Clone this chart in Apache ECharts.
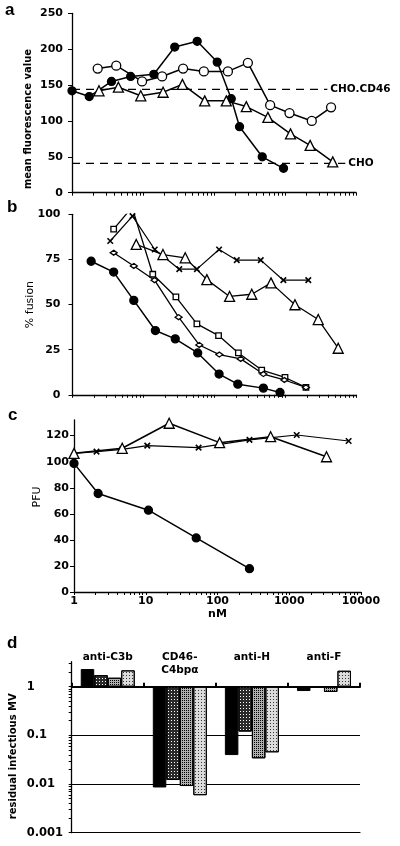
<!DOCTYPE html>
<html><head><meta charset="utf-8">
<script src="https://cdn.jsdelivr.net/npm/echarts@6/dist/echarts.min.js"></script>
<style>html,body{margin:0;padding:0;background:#fff}#c{width:400px;height:846px}</style>
</head><body><div id="c"></div>
<script>
// ---------- Panel a: mean fluorescence value ----------
const aFilledX = [1, 1.75, 3.6, 6.7, 14.2, 28, 58, 111, 175, 229, 478, 953];
const aFilledY = [142, 134, 155, 162, 165, 203, 211, 182, 131, 92, 50, 34];
const aOpenX = [2.3, 4.2, 9.7, 18.6, 36.7, 72, 157, 300, 618, 1157, 2384, 4455];
const aOpenY = [173, 177, 155, 162, 173, 169, 169, 181, 122, 111, 100, 119];
const aTriX = [2.4, 4.5, 9.3, 19.2, 35.9, 74, 149, 285, 574, 1195, 2258, 4700];
const aTriY = [142, 147, 135, 140, 151, 128, 128, 120, 105, 82, 66, 43];
const aRefNames = ['CHO.CD46', 'CHO'];
const aRefLevels = [144, 41];
const aRefEnds = [3950, 7070];
const aYTicks = [0, 50, 100, 150, 200, 250];

// ---------- Panel b: % fusion ----------
const bFilledX = [1.83, 3.8, 7.3, 14.7, 28, 58, 116, 213, 488, 837];
const bFilledY = [74, 68, 52.3, 35.6, 31, 23.2, 11.5, 5.9, 3.7, 1.3];
const bSquareX = [3.8, 6.9, 13.5, 28.6, 56.5, 114, 217, 462, 984, 1941];
const bSquareY = [91.8, 103.9, 66.8, 54.2, 39.3, 32.8, 23.2, 13.7, 9.6, 4.1];
const bDiamondX = [3.8, 7.3, 14.3, 31.2, 61, 117, 234, 488, 964, 1941];
const bDiamondY = [78.7, 71.4, 63.5, 43, 27.6, 22.3, 19.9, 11.5, 8.2, 4.1];
const bCrossX = [3.4, 7.0, 14.4, 31.9, 56.5, 116, 206, 448, 933, 2094];
const bCrossY = [85.2, 99, 80.5, 69.6, 69.6, 80.5, 74.6, 74.6, 63.5, 63.5];
const bTriX = [7.9, 18.8, 38.7, 78, 163, 335, 625, 1359, 2893, 5524];
const bTriY = [83.3, 77.7, 75.9, 63.8, 54.5, 55.7, 62, 49.9, 41.7, 25.8];
const bYTicks = [0, 25, 50, 75, 100];

// ---------- Panel c: PFU ----------
const cFilledX = [1, 2.17, 10.9, 50.5, 279];
const cFilledY = [98.7, 75.6, 62.8, 41.5, 17.9];
const cTriX = [1, 4.7, 21.2, 107, 550, 3305];
const cTriY = [106.4, 110.3, 129.5, 114.6, 119.2, 103.8];
const cCrossX = [1, 2.06, 4.7, 10.5, 54.5, 279, 1270, 6720];
const cCrossY = [106.4, 107.7, 109.5, 112.3, 110.8, 116.7, 120.5, 115.9];
const cYTicks = [0, 20, 40, 60, 80, 100, 120];
const cXName = 'nM';

// ---------- Panel d: residual infectious MV ----------
const dCategories = ['anti-C3b', 'CD46-\nC4bp\u03b1', 'anti-H', 'anti-F'];
const dSeries1 = [2.31, 0.0085, 0.0394, 0.816];
const dSeries2 = [1.74, 0.0121, 0.12, 1.0];
const dSeries3 = [1.53, 0.0091, 0.0338, 0.78];
const dSeries4 = [2.17, 0.0059, 0.0449, 2.13];
const dYLabels = [0.001, 0.01, 0.1, 1];
const dGridLevels = [0.01, 0.1];

// shared log-axis ticks
const xTickLabels = [1, 10, 100, 1000, 10000];
const logMultipliers = [1, 2, 3, 4, 5, 6, 7, 8, 9];
const xTickValues = [];
[1, 10, 100, 1000].forEach(d => logMultipliers.forEach(m => xTickValues.push(d * m)));
xTickValues.push(10000);
const dTickValues = [];
[0.001, 0.01, 0.1, 1].forEach(d => logMultipliers.forEach(m => { const v = +(d * m).toPrecision(4); if (v <= 3.27) dTickValues.push(v); }));

const pairs = (xs, ys) => xs.map((x, i) => [x, ys[i]]);
const FONT = 'DejaVu Sans';
const numLabel = v => String(+(+v).toPrecision(6));

function logX(gi, showLabels) {
  return {
    type: 'log', gridIndex: gi, min: 1, max: 10000, logBase: 10,
    axisLine: { show: true, onZero: false, lineStyle: { color: '#000', width: 1.3 } },
    axisTick: { show: true, length: 3, customValues: xTickValues, lineStyle: { color: '#000', width: 1 } },
    axisLabel: { show: showLabels, customValues: xTickLabels, formatter: numLabel, color: '#000',
      fontFamily: FONT, fontWeight: 'bold', fontSize: 11, margin: 4 },
    splitLine: { show: false }, minorTick: { show: false }, minorSplitLine: { show: false }
  };
}
function valY(gi, min, max, ticks, margin, name, nameGap, nameStyle) {
  return {
    type: 'value', gridIndex: gi, min: min, max: max,
    axisLine: { show: true, lineStyle: { color: '#000', width: 1.3 } },
    axisTick: { show: true, length: 4, customValues: ticks, lineStyle: { color: '#000', width: 1 } },
    axisLabel: { customValues: ticks, color: '#000', fontFamily: FONT, fontWeight: 'bold', fontSize: 11, margin: margin },
    splitLine: { show: false },
    name: name, nameLocation: 'middle', nameGap: nameGap, nameMoveOverlap: false,
    nameTextStyle: Object.assign({ color: '#000', fontFamily: FONT }, nameStyle)
  };
}
function lineSeries(xi, data, symbol, size, fill, lw, extra) {
  return Object.assign({
    type: 'line', xAxisIndex: xi, yAxisIndex: xi, data: data, symbol: symbol, symbolSize: size,
    showAllSymbol: true, z: 3,
    lineStyle: { color: '#000', width: lw },
    itemStyle: { color: fill, borderColor: '#000', borderWidth: 1.3 },
    emphasis: { disabled: true }
  }, extra || {});
}
const CROSS = 'path://M0,0L10,10M10,0L0,10';

const refSeries = aRefNames.map((nm, i) => ({
  type: 'line', xAxisIndex: 0, yAxisIndex: 0, symbol: 'none', z: 2,
  data: [[1, aRefLevels[i]], [aRefEnds[i], aRefLevels[i]]],
  lineStyle: { color: '#000', width: 1.2, type: [8, 6] },
  endLabel: { show: true, formatter: nm, color: '#000', fontFamily: FONT, fontWeight: 'bold', fontSize: 10.5, distance: 3 },
  emphasis: { disabled: true }
}));

const cCrossData = pairs(cCrossX, cCrossY).map((p, i) => i === 0 ? { value: p, symbol: 'none' } : p);

function barSeries(data, color, decal, extra) {
  const s = Object.assign({
    type: 'bar', xAxisIndex: 3, yAxisIndex: 3, data: data, barWidth: 13.5, barGap: '0%',
    itemStyle: { color: color, borderColor: '#000', borderWidth: 1 },
    emphasis: { disabled: true }
  }, extra || {});
  if (decal) s.itemStyle.decal = decal;
  return s;
}

const option = {
  animation: false,
  backgroundColor: '#fff',
  textStyle: { fontFamily: FONT },
  grid: [
    { left: 72, top: 13.3, width: 284, height: 179.4, containLabel: false, outerBoundsMode: 'none' },
    { left: 72.5, top: 214.3, width: 284, height: 180.5, containLabel: false, outerBoundsMode: 'none' },
    { left: 74, top: 420, width: 287, height: 172, containLabel: false, outerBoundsMode: 'none' },
    { left: 71.7, top: 661.7, width: 288.3, height: 171, containLabel: false, outerBoundsMode: 'none' }
  ],
  xAxis: [
    logX(0, false), logX(1, false),
    Object.assign(logX(2, true), { name: cXName, nameLocation: 'middle', nameGap: 17, nameMoveOverlap: false,
      nameTextStyle: { color: '#000', fontFamily: FONT, fontWeight: 'bold', fontSize: 11 } }),
    { type: 'category', gridIndex: 3, position: 'top', offset: -25, data: dCategories, boundaryGap: true,
      axisLine: { show: true, lineStyle: { color: '#000', width: 2 } },
      axisTick: { show: true, length: 4, interval: 0, alignWithLabel: false, lineStyle: { color: '#000', width: 2 } },
      axisLabel: { show: false }, splitLine: { show: false } },
    { type: 'category', gridIndex: 3, position: 'top', offset: 0, data: dCategories, boundaryGap: true,
      axisLine: { show: false }, axisTick: { show: false },
      axisLabel: { show: true, interval: 0, margin: 11, verticalAlign: 'top', color: '#000',
        fontFamily: FONT, fontWeight: 'bold', fontSize: 10.5, lineHeight: 13 } },
    { type: 'category', gridIndex: 3, position: 'bottom', data: dCategories, boundaryGap: true,
      axisLine: { show: true, onZero: false, lineStyle: { color: '#000', width: 1.2 } },
      axisTick: { show: false }, axisLabel: { show: false }, splitLine: { show: false } }
  ],
  yAxis: [
    valY(0, 0, 250, aYTicks, 9, 'mean fluorescence value', 39, { fontSize: 10, fontWeight: 'bold', padding: [0, 32, 0, 0] }),
    valY(1, 0, 100, bYTicks, 12, '% fusion', 37, { fontSize: 11 }),
    valY(2, 0, 132, cYTicks, 5, 'PFU', 31, { fontSize: 11, padding: [0, 0, 0, 18] }),
    { type: 'log', gridIndex: 3, min: 0.001, max: 3.27, logBase: 10,
      axisLine: { show: true, onZero: false, lineStyle: { color: '#000', width: 1.3 } },
      axisTick: { show: true, length: 3, customValues: dTickValues, lineStyle: { color: '#000', width: 1 } },
      axisLabel: { customValues: dYLabels, formatter: numLabel, align: 'left', margin: 45, color: '#000',
        fontFamily: FONT, fontWeight: 'bold', fontSize: 11.5 },
      splitLine: { show: false },
      minorTick: { show: false },
      name: 'residual infectious MV', nameLocation: 'middle', nameGap: 53, nameMoveOverlap: false,
      nameTextStyle: { color: '#000', fontFamily: FONT, fontSize: 10, fontWeight: 'bold', padding: [0, 18, 0, 0] } }
  ],
  graphic: [
    { type: 'text', left: 5, top: 2, style: { text: 'a', font: 'bold 17px "Liberation Sans"', fill: '#000' } },
    { type: 'text', left: 7, top: 199, style: { text: 'b', font: 'bold 17px "Liberation Sans"', fill: '#000' } },
    { type: 'text', left: 8, top: 407, style: { text: 'c', font: 'bold 17px "Liberation Sans"', fill: '#000' } },
    { type: 'text', left: 7, top: 635, style: { text: 'd', font: 'bold 17px "Liberation Sans"', fill: '#000' } }
  ],
  series: [
    ...refSeries,
    lineSeries(0, pairs(aFilledX, aFilledY), 'circle', 8, '#000', 1.5),
    lineSeries(0, pairs(aOpenX, aOpenY), 'circle', 9, '#fff', 1.5),
    lineSeries(0, pairs(aTriX, aTriY), 'triangle', 10, '#fff', 1.5),

    lineSeries(1, pairs(bCrossX, bCrossY), CROSS, 5.5, '#000', 1.2, { itemStyle: { color: '#000', borderColor: '#000', borderWidth: 1.6 } }),
    lineSeries(1, pairs(bTriX, bTriY), 'triangle', 10, '#fff', 1.3),
    lineSeries(1, pairs(bSquareX, bSquareY), 'rect', 5.5, '#fff', 1.3),
    lineSeries(1, pairs(bDiamondX, bDiamondY), 'diamond', [7, 5], '#fff', 1.3),
    lineSeries(1, pairs(bFilledX, bFilledY), 'circle', 8, '#000', 1.5),

    lineSeries(2, cCrossData, CROSS, 5.5, '#000', 1.2, { itemStyle: { color: '#000', borderColor: '#000', borderWidth: 1.6 } }),
    lineSeries(2, pairs(cTriX, cTriY), 'triangle', 10, '#fff', 1.5),
    lineSeries(2, pairs(cFilledX, cFilledY), 'circle', 8, '#000', 1.5),

    barSeries(dSeries1, '#000', null, {
      markLine: { silent: true, symbol: 'none', z: 1, label: { show: false },
        lineStyle: { color: '#000', width: 1, type: 'solid' },
        data: dGridLevels.map(v => ({ yAxis: v })) }
    }),
    barSeries(dSeries2, '#2a2a2a', { symbol: 'rect', symbolSize: 1, dashArrayX: [1, 2], dashArrayY: [1, 2], color: '#fff' }),
    barSeries(dSeries3, '#b0b0b0', { symbol: 'rect', symbolSize: 1, dashArrayX: [1, 1], dashArrayY: [1, 1], color: '#000' }),
    barSeries(dSeries4, '#dcdcdc', { symbol: 'rect', symbolSize: 1, dashArrayX: [1, 2], dashArrayY: [1, 2], color: '#333' })
  ]
};
const chart = echarts.init(document.getElementById('c'), null, { renderer: 'canvas' });
chart.setOption(option);
</script></body></html>
